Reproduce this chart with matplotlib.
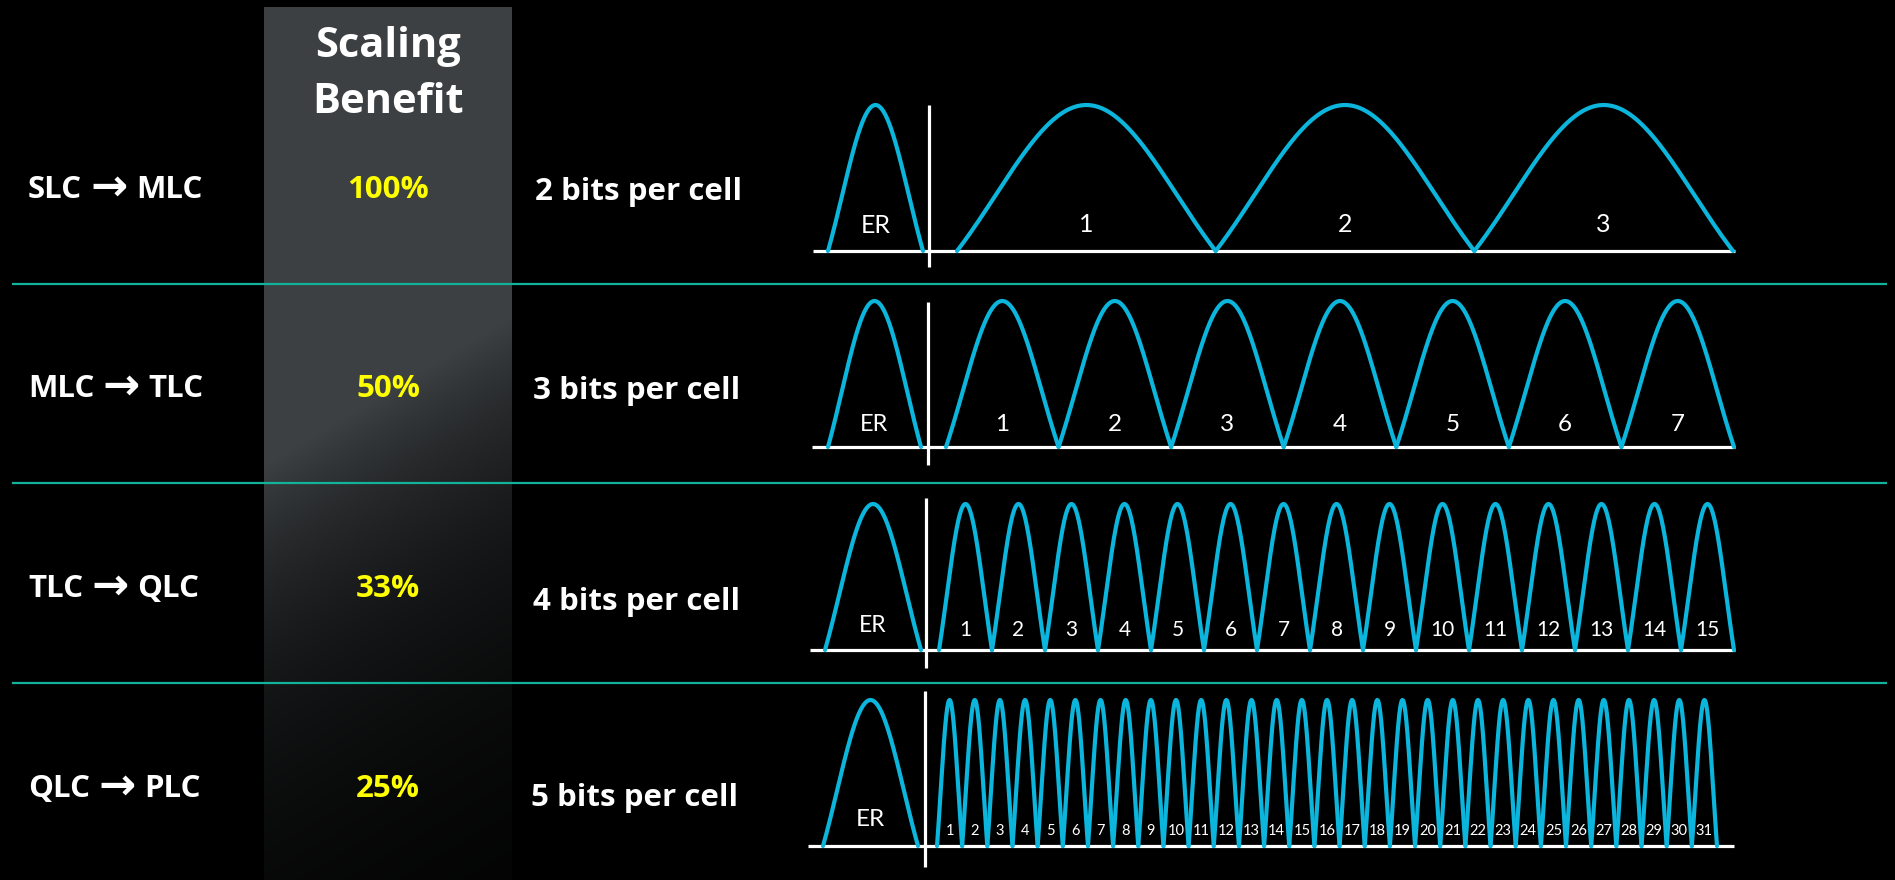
import numpy as np
import matplotlib.pyplot as plt

# ---- data -------------------------------------------------------------
from_cell = ["SLC", "MLC", "TLC", "QLC"]
to_cell = ["MLC", "TLC", "QLC", "PLC"]
scaling_benefit = [100, 50, 33, 25]          # percent
bits_per_cell = [2, 3, 4, 5]
program_states = [3, 7, 15, 31]              # states above the erased level

# ---- layout (pixel space) ---------------------------------------------
W, H = 1895, 880
CYAN = "#0bb5dc"
TEAL = "#13b39b"
YELLOW = "#ffff00"
WHITE = "white"
BOLD_FONT = ["Open Sans", "DejaVu Sans"]
FONT = ["Lato", "DejaVu Sans"]

row_text_base = [198, 397, 597, 797]
bits_text_base = [200, 399, 610, 806]
bits_text_x = [535, 533, 533, 531]
separators = [284, 483, 683]

# per-row geometry of the threshold-voltage sketches
rows = [
    dict(base=251, vx=929, vtop=105, vbot=267, left=813, er=(828, 923),
         main=(957, 1733), end=1735, num_fs=18, num_base=232, er_base=233, er_fs=18),
    dict(base=447, vx=928, vtop=302, vbot=465, left=812, er=(828, 921),
         main=(946, 1734), end=1735, num_fs=17.5, num_base=431, er_base=431, er_fs=17),
    dict(base=650, vx=926, vtop=498, vbot=668, left=810, er=(825, 921),
         main=(939, 1734), end=1735, num_fs=15, num_base=636, er_base=632, er_fs=16.5),
    dict(base=846, vx=925, vtop=691, vbot=867, left=808, er=(823, 918),
         main=(937, 1717), end=1734, num_fs=10.5, num_base=835, er_base=826, er_fs=17.5),
]
HUMP_H = 146

fig = plt.figure(figsize=(W / 100, H / 100), dpi=100, facecolor="black")
ax = fig.add_axes([0, 0, 1, 1])
ax.set_facecolor("black")

# ---- shaded "Scaling Benefit" column ----------------------------------
cx0, cx1, cy0 = 264, 512, 7
gx = np.arange(cx0, cx1) + 0.5
gy = np.arange(cy0, H) + 0.5
GX, GY = np.meshgrid(gx, gy)
t = 0.0018 * (GX - 264) + 0.003 * (GY - 500) + 0.1
fade = np.exp(-1.6 * np.clip(t, 0, None))
base_gray = np.array([60, 64, 66]) / 255.0
ax.imshow(base_gray[None, None, :] * fade[..., None],
          extent=(cx0, cx1, H, cy0), origin="upper", aspect="auto",
          interpolation="bilinear", zorder=0)

ax.set_xlim(0, W)
ax.set_ylim(H, 0)
ax.axis("off")
renderer = fig.canvas.get_renderer()

# ---- header -----------------------------------------------------------
ax.text(388, 57, "Scaling", color=WHITE, fontsize=30, fontweight="bold",
        family=BOLD_FONT, ha="center", va="baseline")
ax.text(388, 113, "Benefit", color=WHITE, fontsize=30, fontweight="bold",
        family=BOLD_FONT, ha="center", va="baseline")

# ---- separators -------------------------------------------------------
for y in separators:
    ax.plot([12, 1887], [y, y], color=TEAL, lw=1.6, zorder=2,
            solid_capstyle="butt")


def hump(xl, xr, ybase, height, n=160, sigma=0.7):
    u = np.linspace(-1, 1, n)
    floor = np.exp(-1 / (2 * sigma ** 2))
    g = (np.exp(-u ** 2 / (2 * sigma ** 2)) - floor) / (1 - floor)
    return (xl + xr) / 2 + u * (xr - xl) / 2, ybase - height * g


def right_edge(txt):
    bb = txt.get_window_extent(renderer=renderer)
    return ax.transData.inverted().transform((bb.x1, bb.y0))[0]


for i in range(4):
    r = rows[i]
    y = row_text_base[i]
    # left-hand labels: "<from>  →  <to>"
    t1 = ax.text(28, y, from_cell[i], color=WHITE, fontsize=22.5,
                 fontweight="bold", family=BOLD_FONT, ha="left", va="baseline")
    x_arrow = right_edge(t1) + 8
    t2 = ax.text(x_arrow, y + 2, "\u2192", color=WHITE, fontsize=32,
                 fontweight="bold", family=["DejaVu Sans"], ha="left",
                 va="baseline")
    x_to = right_edge(t2) + 9
    ax.text(x_to, y, to_cell[i], color=WHITE, fontsize=22.5,
            fontweight="bold", family=BOLD_FONT, ha="left", va="baseline")

    ax.text(388, y, f"{scaling_benefit[i]}%", color=YELLOW,
            fontsize=22.5, fontweight="bold", family=BOLD_FONT,
            ha="center", va="baseline")
    ax.text(bits_text_x[i], bits_text_base[i], f"{bits_per_cell[i]} bits per cell",
            color=WHITE, fontsize=22.5, fontweight="bold", family=BOLD_FONT,
            ha="left", va="baseline")

    # axes of the sketch
    ax.plot([r["left"], r["end"]], [r["base"], r["base"]], color=WHITE,
            lw=2.3, solid_capstyle="butt", zorder=3)
    ax.plot([r["vx"], r["vx"]], [r["vtop"], r["vbot"]], color=WHITE,
            lw=2.3, solid_capstyle="butt", zorder=3)

    # erased state
    ex, ey = hump(r["er"][0], r["er"][1], r["base"], HUMP_H)
    ax.plot(ex, ey, color=CYAN, lw=3.0, zorder=4, solid_capstyle="round")
    ax.text((r["er"][0] + r["er"][1]) / 2, r["er_base"], "ER", color=WHITE,
            fontsize=r["er_fs"], family=FONT, ha="center", va="baseline")

    # programmed states
    n = program_states[i]
    edges = np.linspace(r["main"][0], r["main"][1], n + 1)
    for k in range(n):
        hx, hy = hump(edges[k], edges[k + 1], r["base"], HUMP_H)
        ax.plot(hx, hy, color=CYAN, lw=3.0, zorder=4, solid_capstyle="round")
        ax.text((edges[k] + edges[k + 1]) / 2, r["num_base"], str(k + 1),
                color=WHITE, fontsize=r["num_fs"], family=FONT,
                ha="center", va="baseline", zorder=5)

fig.savefig("out.png", dpi=100, facecolor="black")
